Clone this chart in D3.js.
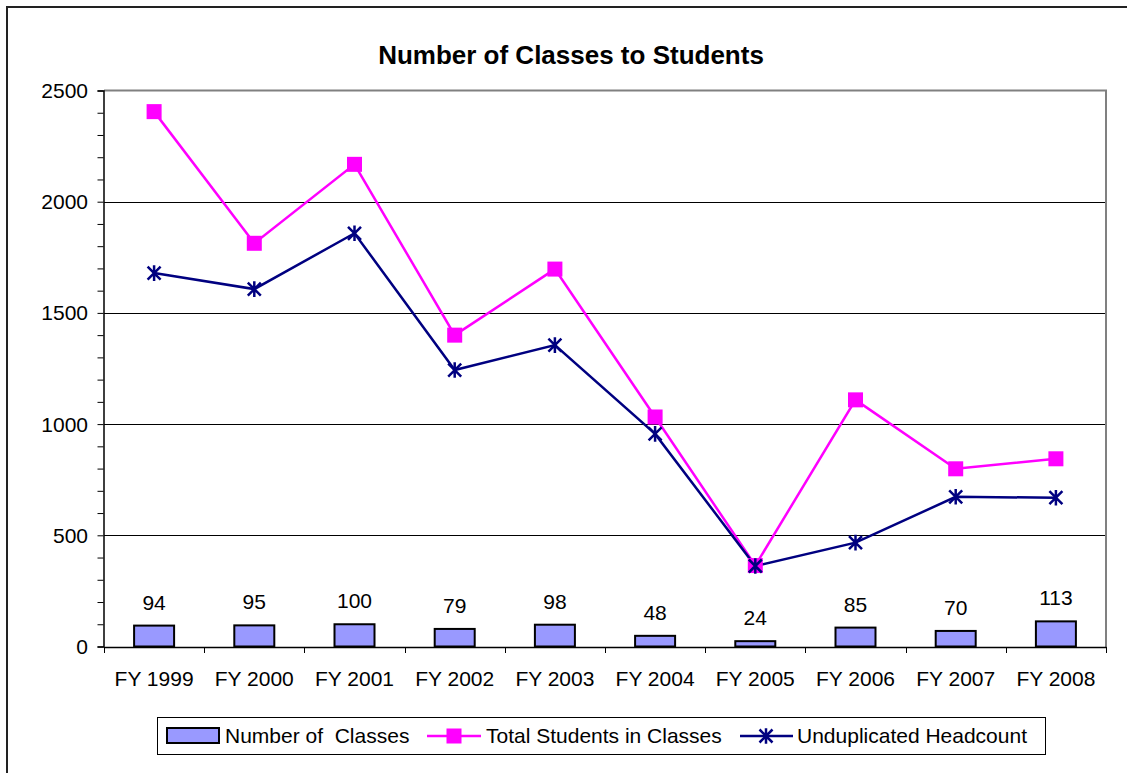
<!DOCTYPE html>
<html>
<head>
<meta charset="utf-8">
<script src="https://cdn.jsdelivr.net/npm/d3@7"></script>
<style>
  body { margin: 0; background: #fff; }
  text { font-family: "Liberation Sans", Arial, sans-serif; white-space: pre; }
</style>
</head>
<body>
<div id="chart"></div>
<script>
var years = ["FY 1999", "FY 2000", "FY 2001", "FY 2002", "FY 2003", "FY 2004", "FY 2005", "FY 2006", "FY 2007", "FY 2008"];
var classes = [94, 95, 100, 79, 98, 48, 24, 85, 70, 113];
var totalStudents = [2405, 1813, 2168, 1400, 1697, 1032, 364, 1109, 799, 844];
var headcount = [1679, 1607, 1858, 1243, 1355, 956, 362, 467, 673, 669];
var yTicks = [0, 500, 1000, 1500, 2000, 2500];

var width = 1127;
var height = 773;
var margin = { left: 104, right: 21, top: 90, bottom: 126 };
var fs = "21px";

var svg = d3
  .select("#chart")
  .append("svg")
  .attr("width", width)
  .attr("height", height);

// outer chart border
svg.append("path")
  .attr("d", "M7,773 V7 H1127")
  .attr("fill", "none")
  .attr("stroke", "#222")
  .attr("stroke-width", 2);

svg.append("text")
  .attr("x", 571)
  .attr("y", 64)
  .attr("text-anchor", "middle")
  .style("font-size", "26px")
  .style("font-weight", "bold")
  .text("Number of Classes to Students");

var x = d3
  .scaleBand()
  .domain(years)
  .range([margin.left, width - margin.right]);

var y = d3
  .scaleLinear()
  .domain([0, 2500])
  .range([height - margin.bottom - 0.5, margin.top + 0.5]);

// gridlines
svg.append("g")
  .selectAll("line")
  .data(yTicks.filter(function (d) { return d > 0 && d < 2500; }))
  .enter()
  .append("line")
  .attr("x1", margin.left)
  .attr("x2", width - margin.right)
  .attr("y1", function (d) { return Math.round(y(d)) + 0.5; })
  .attr("y2", function (d) { return Math.round(y(d)) + 0.5; })
  .attr("stroke", "#000")
  .attr("stroke-width", 1);

// plot area top + right border
svg.append("path")
  .attr("d", "M" + margin.left + "," + (margin.top + 0.5) + " H" + (width - margin.right) + " V" + (height - margin.bottom))
  .attr("fill", "none")
  .attr("stroke", "#808080")
  .attr("stroke-width", 2);

// y axis with minor ticks
var yAxis = svg.append("g")
  .attr("transform", "translate(" + (margin.left - 0.5) + ",0)")
  .call(d3.axisLeft(y).tickValues(d3.range(0, 2501, 100)).tickSize(6).tickFormat(""));
yAxis.select(".domain").attr("stroke", "#000").attr("stroke-width", 1.5);
yAxis.selectAll(".tick line").attr("stroke", "#000");

svg.append("g")
  .selectAll("text")
  .data(yTicks)
  .enter()
  .append("text")
  .attr("x", margin.left - 16)
  .attr("y", function (d) { return y(d) + 7.5; })
  .attr("text-anchor", "end")
  .style("font-size", fs)
  .text(function (d) { return d; });

// x axis
var xAxis = svg.append("g")
  .attr("transform", "translate(0," + (height - margin.bottom) + ")")
  .call(d3.axisBottom(x).tickSize(0).tickFormat(""));
xAxis.select(".domain").attr("stroke", "#000").attr("stroke-width", 1.5);

svg.append("g")
  .selectAll("line")
  .data(years.concat(["end"]))
  .enter()
  .append("line")
  .attr("x1", function (d, i) { return Math.round(margin.left + i * x.step()) + 0.5; })
  .attr("x2", function (d, i) { return Math.round(margin.left + i * x.step()) + 0.5; })
  .attr("y1", height - margin.bottom)
  .attr("y2", height - margin.bottom + 6)
  .attr("stroke", "#000");

svg.append("g")
  .selectAll("text")
  .data(years)
  .enter()
  .append("text")
  .attr("x", function (d) { return x(d) + x.bandwidth() / 2; })
  .attr("y", height - margin.bottom + 39)
  .attr("text-anchor", "middle")
  .style("font-size", fs)
  .text(function (d) { return d; });

// bars
var barW = 40;
svg.append("g")
  .selectAll("rect")
  .data(classes)
  .enter()
  .append("rect")
  .attr("x", function (d, i) { return x(years[i]) + x.bandwidth() / 2 - barW / 2; })
  .attr("y", function (d) { return y(d); })
  .attr("width", barW)
  .attr("height", function (d) { return y(0) - y(d); })
  .attr("fill", "#9999ff")
  .attr("stroke", "#000")
  .attr("stroke-width", 2);

svg.append("g")
  .selectAll("text")
  .data(classes)
  .enter()
  .append("text")
  .attr("x", function (d, i) { return x(years[i]) + x.bandwidth() / 2; })
  .attr("y", function (d) { return y(d) - 16; })
  .attr("text-anchor", "middle")
  .style("font-size", fs)
  .text(function (d) { return d; });

var line = d3
  .line()
  .x(function (d, i) { return x(years[i]) + x.bandwidth() / 2; })
  .y(function (d) { return y(d); });

svg.append("path")
  .datum(totalStudents)
  .attr("d", line)
  .attr("fill", "none")
  .attr("stroke", "#ff00ff")
  .attr("stroke-width", 2.5);

svg.append("path")
  .datum(headcount)
  .attr("d", line)
  .attr("fill", "none")
  .attr("stroke", "#000080")
  .attr("stroke-width", 2.5);

var sq = 15;
svg.append("g")
  .selectAll("rect")
  .data(totalStudents)
  .enter()
  .append("rect")
  .attr("x", function (d, i) { return x(years[i]) + x.bandwidth() / 2 - sq / 2; })
  .attr("y", function (d) { return y(d) - sq / 2; })
  .attr("width", sq)
  .attr("height", sq)
  .attr("fill", "#ff00ff");

function star(g, cx, cy, r) {
  var d = "M" + (cx - r) + "," + (cy - r) + "L" + (cx + r) + "," + (cy + r) +
    "M" + (cx - r) + "," + (cy + r) + "L" + (cx + r) + "," + (cy - r) +
    "M" + cx + "," + (cy - r * 1.2) + "L" + cx + "," + (cy + r * 1.2);
  g.append("path").attr("d", d).attr("stroke", "#000080").attr("stroke-width", 2.5).attr("fill", "none");
}

var stars = svg.append("g");
headcount.forEach(function (d, i) {
  star(stars, x(years[i]) + x.bandwidth() / 2, y(d), 6.5);
});

// legend
var lg = svg.append("g");
lg.append("rect")
  .attr("x", 157.5)
  .attr("y", 717.5)
  .attr("width", 888)
  .attr("height", 37)
  .attr("fill", "#fff")
  .attr("stroke", "#000")
  .attr("stroke-width", 1);

lg.append("rect")
  .attr("x", 167)
  .attr("y", 728)
  .attr("width", 52)
  .attr("height", 15)
  .attr("fill", "#9999ff")
  .attr("stroke", "#000")
  .attr("stroke-width", 2);
lg.append("text").attr("x", 225).attr("y", 743).style("font-size", fs).text("Number of  Classes");

lg.append("line").attr("x1", 427).attr("x2", 481).attr("y1", 736).attr("y2", 736)
  .attr("stroke", "#ff00ff").attr("stroke-width", 2.5);
lg.append("rect").attr("x", 446.5).attr("y", 728.5).attr("width", 15).attr("height", 15).attr("fill", "#ff00ff");
lg.append("text").attr("x", 486).attr("y", 743).style("font-size", fs).text("Total Students in Classes");

lg.append("line").attr("x1", 740).attr("x2", 793).attr("y1", 736).attr("y2", 736)
  .attr("stroke", "#000080").attr("stroke-width", 2.5);
star(lg, 766, 736, 6.5);
lg.append("text").attr("x", 797).attr("y", 743).style("font-size", fs).text("Unduplicated Headcount");
</script>
</body>
</html>
